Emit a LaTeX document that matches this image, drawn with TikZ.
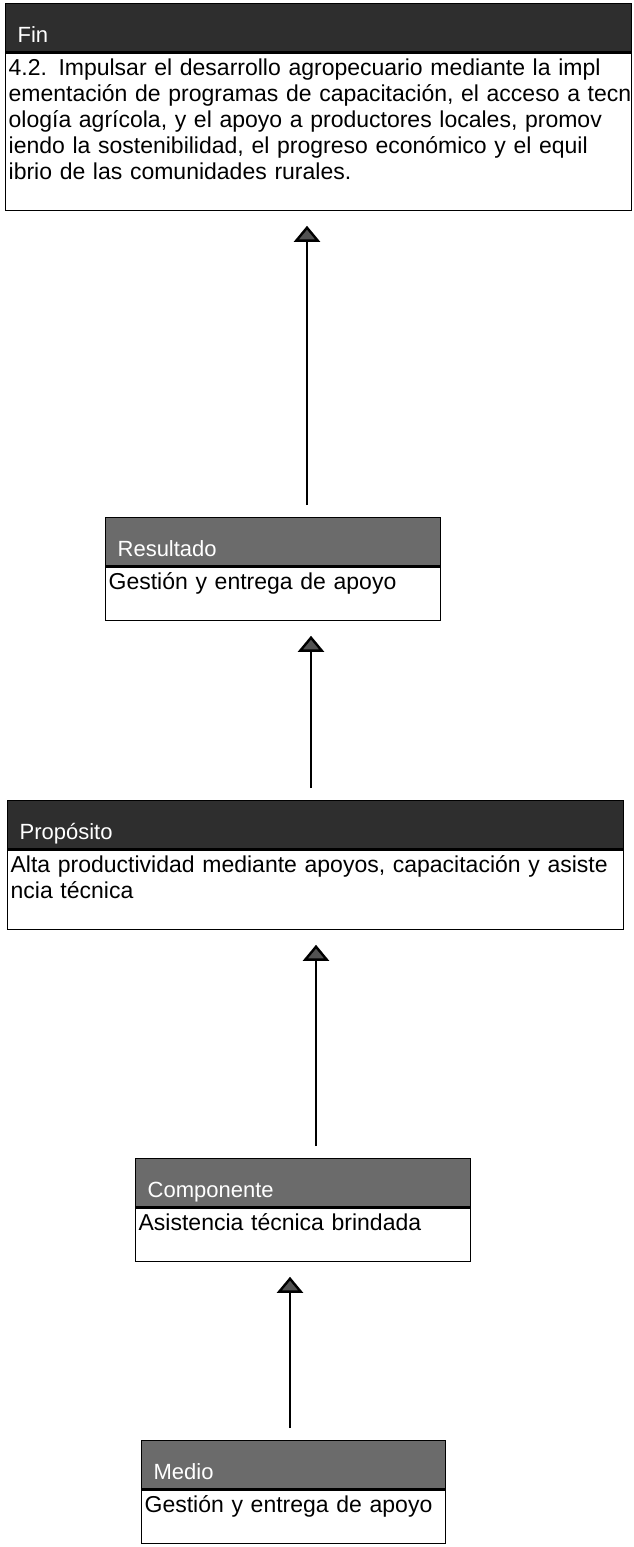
\documentclass[tikz,border=0pt]{standalone}
\usepackage{fontspec}
\setmainfont{Liberation Sans}
\usetikzlibrary{positioning,arrows.meta}

% fondo blanco bajo la ultima linea de cada caja
\newcommand{\relleno}{\rule[-27pt]{0pt}{1pt}}
\newcommand{\linea}[1]{\makebox[\linewidth][l]{#1}}

\begin{document}
\begin{tikzpicture}[
x=1pt, y=-1pt,
cab/.style={
  draw=black,
  line width=1.3pt,
  fill=black!58,
  text=white,
  anchor=north west,
  align=left,
  inner xsep=12pt,
  inner ysep=0pt,
  text height=39pt,
  text depth=9pt,
  font=\fontsize{22}{26}\selectfont
  },
oscura/.style={
  cab,
  fill=black!82
  },
cuerpo/.style={
  draw=black,
  line width=1.3pt,
  fill=white,
  align=left,
  inner xsep=3pt,
  inner ysep=4pt,
  below=0pt of #1,
  font=\fontsize{23}{26}\selectfont
  },
flecha/.style={
  ->,
  line width=2.4pt,
  shorten <=12pt,
  shorten >=15pt
  },
>={Triangle[width=26pt,length=16pt,fill=black!68]}
]
\useasboundingbox (0,0) rectangle (634,1547);

\node[oscura, text width=602pt] (fin-cab) at (5,3) {Fin};
\node[cuerpo=fin-cab, text width=620pt] (fin)
  {\strut 4.2. Impulsar el desarrollo agropecuario mediante la impl\\
   \linea{ementación de programas de capacitación, el acceso a tecn}\\
   ología agrícola, y el apoyo a productores locales, promov\\
   iendo la sostenibilidad, el progreso económico y el equil\\
   ibrio de las comunidades rurales.\relleno};

\node[cab, text width=311pt] (resultado-cab) at (105,517) {Resultado};
\node[cuerpo=resultado-cab, text width=329pt] (resultado)
  {\strut Gestión y entrega de apoyo\relleno};

\node[oscura, text width=592pt] (proposito-cab) at (7,800) {Propósito};
\node[cuerpo=proposito-cab, text width=610pt] (proposito)
  {\strut Alta productividad mediante apoyos, capacitación y asiste\\
   ncia técnica\relleno};

\node[cab, text width=311pt] (componente-cab) at (135,1158) {Componente};
\node[cuerpo=componente-cab, text width=329pt] (componente)
  {\strut Asistencia técnica brindada\relleno};

\node[cab, text width=280pt] (medio-cab) at (141,1440) {Medio};
\node[cuerpo=medio-cab, text width=298pt] (medio)
  {\strut Gestión y entrega de apoyo\relleno};

\path (307,0) coordinate (x1) (311,0) coordinate (x2)
      (316,0) coordinate (x3) (290,0) coordinate (x4);
\foreach \a/\b/\c in {resultado/fin/x1,proposito/resultado/x2,
                      componente/proposito/x3,medio/componente/x4}
  \draw[flecha] (\c |- \a-cab.north) -- (\c |- \b.south);
\end{tikzpicture}
\end{document}
